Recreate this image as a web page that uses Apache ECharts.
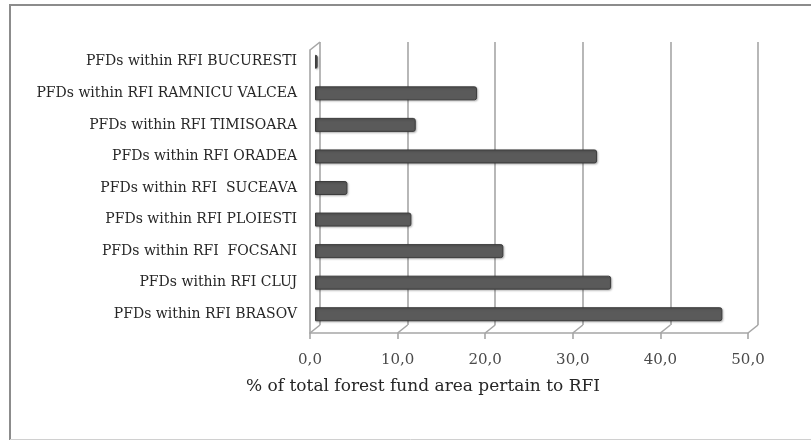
<!DOCTYPE html>
<html>
<head>
<meta charset="utf-8">
<script src="https://cdn.jsdelivr.net/npm/echarts@6/dist/echarts.min.js"></script>
<style>
  html, body { margin: 0; padding: 0; background: #ffffff; }
  #chart { width: 811px; height: 440px; }
</style>
</head>
<body>
<div id="chart"></div>
<script>
// Regional forest inspectorates (bottom to top on the category axis)
const categories = [
  'PFDs within RFI BRASOV',
  'PFDs within RFI CLUJ',
  'PFDs within RFI  FOCSANI',
  'PFDs within RFI PLOIESTI',
  'PFDs within RFI  SUCEAVA',
  'PFDs within RFI ORADEA',
  'PFDs within RFI TIMISOARA',
  'PFDs within RFI RAMNICU VALCEA',
  'PFDs within RFI BUCURESTI'
];
// Share of total forest fund area, %
const shares = [46.5, 33.8, 21.5, 11.0, 3.7, 32.2, 11.5, 18.5, 0.3];
// Value axis ticks
const ticks = [0, 10, 20, 30, 40, 50];
const axisTitle = '% of total forest fund area pertain to RFI';

const SERIF = '"DejaVu Serif", "Liberation Serif", serif';
const WALL = '#a6a6a6';
// depth offset between the front edge and the back wall of the pseudo-3D box
const DEPTH_X = 10, DEPTH_Y = 8;

const chart = echarts.init(document.getElementById('chart'), null, { renderer: 'canvas' });

const valueAxisBase = {
  type: 'value', min: ticks[0], max: ticks[ticks.length - 1], interval: 10
};

chart.setOption({
  backgroundColor: '#ffffff',
  animation: false,
  graphic: [
    {
      // chart frame
      type: 'rect',
      shape: { x: 10, y: 5, width: 820, height: 440 },
      style: { fill: 'none', stroke: '#8c8c8c', lineWidth: 2 },
      z: 0
    },
    {
      type: 'line',
      shape: { x1: 10, y1: 439.5, x2: 811, y2: 439.5 },
      style: { stroke: '#d0d0d0', lineWidth: 1 },
      z: 0
    },
    {
      type: 'text',
      left: 246,
      top: 378,
      style: { text: axisTitle, font: '17px ' + SERIF, fill: '#262626' }
    }
  ],
  grid: [
    // back wall (grid lines)
    { left: 320, top: 42, width: 438, height: 283 },
    // front edge (value axis, ticks, side wall edge)
    { left: 310, top: 50, width: 438, height: 283 },
    // bars, at mid depth
    { left: 315, top: 46, width: 438, height: 284 }
  ],
  xAxis: [
    Object.assign({}, valueAxisBase, {
      gridIndex: 0,
      axisLine: { show: false }, axisTick: { show: false }, axisLabel: { show: false },
      splitLine: { show: true, lineStyle: { color: WALL, width: 1.6 } }
    }),
    Object.assign({}, valueAxisBase, {
      gridIndex: 1,
      axisLine: { show: true, lineStyle: { color: WALL, width: 1.6 } },
      axisTick: { show: true, length: 6, lineStyle: { color: WALL, width: 1.6 } },
      axisLabel: {
        show: true, margin: 20, fontFamily: SERIF, fontSize: 15, color: '#4a4a4a',
        formatter: v => v.toFixed(1).replace('.', ',')
      },
      splitLine: { show: false }
    }),
    Object.assign({}, valueAxisBase, {
      gridIndex: 2,
      axisLine: { show: false }, axisTick: { show: false }, axisLabel: { show: false },
      splitLine: { show: false }
    })
  ],
  yAxis: [
    {
      type: 'category', gridIndex: 0, data: categories,
      axisLine: { show: false }, axisTick: { show: false }, axisLabel: { show: false }
    },
    {
      type: 'category', gridIndex: 1, data: categories,
      axisLine: { show: true, lineStyle: { color: WALL, width: 1.6 } },
      axisTick: { show: false }, axisLabel: { show: false }
    },
    {
      type: 'category', gridIndex: 2, data: categories,
      axisLine: { show: false }, axisTick: { show: false },
      axisLabel: {
        show: true, margin: 18, fontFamily: SERIF, fontSize: 14, color: '#262626'
      }
    }
  ],
  series: [
    {
      // receding floor edges joining front ticks to back grid lines, plus side wall top
      type: 'custom',
      xAxisIndex: 1, yAxisIndex: 1,
      silent: true,
      data: ticks.map(v => [v, 0]),
      renderItem: (params, api) => {
        const cs = params.coordSys;
        const x = api.coord([api.value(0), 0])[0];
        const yb = cs.y + cs.height;
        const children = [{
          type: 'line',
          shape: { x1: x, y1: yb, x2: x + DEPTH_X, y2: yb - DEPTH_Y },
          style: { stroke: WALL, lineWidth: 1.6 }
        }];
        if (api.value(0) === ticks[0]) {
          children.push({
            type: 'line',
            shape: { x1: x, y1: cs.y, x2: x + DEPTH_X, y2: cs.y - DEPTH_Y },
            style: { stroke: WALL, lineWidth: 1.6 }
          });
        }
        return { type: 'group', children };
      },
      z: 3
    },
    {
      type: 'bar',
      xAxisIndex: 2, yAxisIndex: 2,
      data: shares,
      barWidth: 14,
      itemStyle: {
        color: '#5a5a5a',
        borderColor: '#3c3c3c',
        borderWidth: 1,
        borderRadius: [0, 2, 2, 0],
        shadowColor: 'rgba(0,0,0,0.25)',
        shadowBlur: 2,
        shadowOffsetX: 1,
        shadowOffsetY: 1
      },
      z: 5
    }
  ]
});
</script>
</body>
</html>
